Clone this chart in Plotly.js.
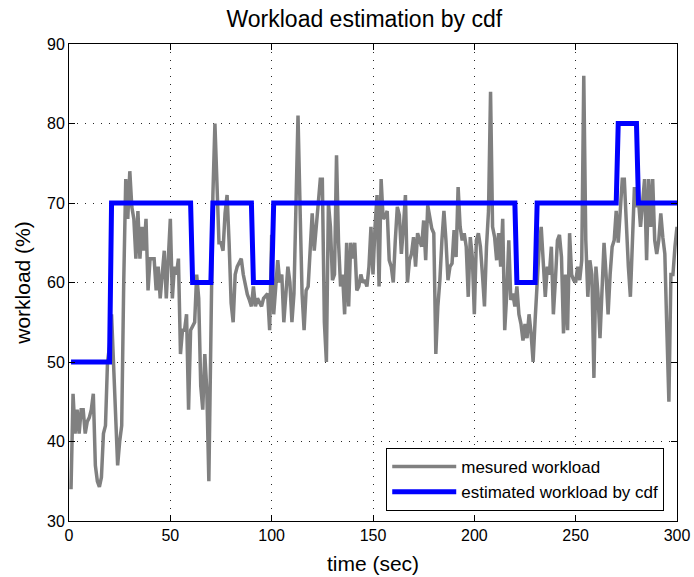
<!DOCTYPE html>
<html>
<head>
<meta charset="utf-8">
<script src="https://cdn.plot.ly/plotly-3.0.1.min.js"></script>
<style>
  html, body { margin: 0; padding: 0; background: #fff; }
  #chart { width: 694px; height: 577px; }
</style>
</head>
<body>
<div id="chart"></div>
<script>
// Measured workload, sampled once per second (t = 1 .. 300)
const measuredWorkload = [
  34, 46, 41, 44, 41, 44, 44, 41, 42.5, 43,
  44, 46, 37, 35, 34.3, 35.5, 41, 42, 50, 52,
  56, 49, 42, 37, 40, 42, 60, 73, 68, 74,
  69.5, 68, 63, 69, 63, 67, 64, 68, 59, 63,
  63, 63, 59, 62, 58, 61, 64, 58, 64, 68,
  58, 62, 61, 63, 51, 54, 54, 56, 44, 54,
  54.5, 55, 61, 58, 47, 44, 51, 46.5, 35, 57,
  71, 80, 71.6, 65, 65, 64, 68.7, 71, 65, 57.4,
  55, 61, 62, 62.5, 63, 61, 59.5, 58.5, 57.8, 57,
  59.5, 57, 58, 57.5, 57, 58, 58.3, 58.6, 54, 66,
  56, 59, 62.8, 60, 61, 55, 59, 62, 60, 55,
  58.6, 69.5, 81, 69.5, 58.6, 54, 59, 59.5, 65.3, 68.7,
  64, 67, 70.4, 73, 73, 55, 50, 70, 67, 60.3,
  61, 76, 65, 59.5, 61, 56, 65, 57, 65, 63,
  65, 59, 59.5, 61, 60, 60.3, 59.5, 62, 67, 61,
  67, 71, 59.5, 73, 68, 68.3, 69, 62.8, 62, 60,
  65.3, 69.5, 68.5, 63.6, 67, 71, 60, 62.8, 63.6, 65.7,
  62, 66.2, 65.3, 64.5, 67.8, 62.8, 69.7, 68.5, 66.8, 66.2,
  51, 57, 60.3, 65.3, 69, 65.3, 60.3, 62, 62.4, 66.6,
  63.2, 72, 67, 65.3, 66.2, 64.5, 58.2, 65.7, 63.2, 56,
  65.3, 66.2, 64.5, 61, 57, 64.5, 69, 84, 67, 65.7,
  62.8, 66.2, 62, 68, 54, 58.6, 65.3, 57.8, 58.6, 57,
  59.5, 56, 54.8, 52.7, 54.8, 53, 56, 53.6, 50, 55.3,
  61, 64.5, 67, 63.2, 58.2, 62, 61, 64.5, 56, 60.3,
  65.3, 66, 63.2, 53.6, 61, 54, 66.2, 61, 60.3, 60,
  62, 60.3, 62.8, 86, 65.3, 58.2, 62.8, 61, 48, 62,
  58.6, 53, 58.6, 65, 61, 56, 61, 64.5, 65.3, 69,
  65, 69.5, 73, 73, 67, 62, 58.2, 65.3, 72, 69.5,
  70.4, 67, 70.4, 73, 62.8, 73, 67, 73, 65.3, 63.6,
  65.3, 68.7, 65.7, 63.6, 54, 45, 61, 61, 64.5, 67
];
const measuredTime = measuredWorkload.map((_, i) => i + 1);

// Workload level estimated from the cdf (step changes between consecutive seconds)
const estimatedTime  = [1, 20, 21, 60, 61, 70, 71, 90, 91, 100, 101, 220, 221, 230, 231, 270, 271, 280, 281, 300];
const estimatedLevel = [50, 50, 70, 70, 60, 60, 70, 70, 60, 60, 70, 70, 60, 60, 70, 70, 80, 80, 70, 70];

const xTicks = [0, 50, 100, 150, 200, 250, 300];
const yTicks = [30, 40, 50, 60, 70, 80, 90];

const font = 'Liberation Sans, Arial, Helvetica, sans-serif';

const traces = [
  {
    x: measuredTime, y: measuredWorkload,
    type: 'scatter', mode: 'lines',
    name: 'mesured workload',
    line: { color: '#808080', width: 3.5, shape: 'linear' }
  },
  {
    x: estimatedTime, y: estimatedLevel,
    type: 'scatter', mode: 'lines',
    name: 'estimated workload by cdf',
    line: { color: '#0000ff', width: 5 }
  }
];

// MATLAB-like box axes: inward ticks on all sides, sparse dotted grid
const axisCommon = {
  showline: true, linecolor: '#000', linewidth: 1, mirror: 'ticks',
  ticks: 'inside', ticklen: 6, tickcolor: '#000', tickwidth: 1,
  showgrid: true, gridcolor: 'rgba(0,0,0,0.85)', griddash: '1px,7px', gridwidth: 1,
  zeroline: false,
  tickfont: { family: font, size: 16, color: '#000' }
};

const layout = {
  width: 694, height: 577,
  margin: { l: 69, r: 17, t: 44, b: 56 },
  paper_bgcolor: '#fff', plot_bgcolor: '#fff',
  font: { family: font, color: '#000' },
  title: {
    text: 'Workload estimation by cdf',
    font: { family: font, size: 23, color: '#000' },
    x: 0.525, xanchor: 'center', y: 0.968, yanchor: 'middle'
  },
  xaxis: Object.assign({}, axisCommon, {
    range: [0, 300], tickvals: xTicks, ticktext: xTicks.map(String),
    title: { text: 'time (sec)', font: { family: font, size: 21 }, standoff: 13 }
  }),
  yaxis: Object.assign({}, axisCommon, {
    range: [30, 90], tickvals: yTicks, ticktext: yTicks.map(String),
    title: { text: 'workload (%)', font: { family: font, size: 21 }, standoff: 10 }
  }),
  showlegend: true,
  legend: {
    x: 0.979, y: 0.021, xanchor: 'right', yanchor: 'bottom',
    bgcolor: '#fff', bordercolor: '#000', borderwidth: 1,
    font: { family: font, size: 17, color: '#000' },
    tracegroupgap: 0, itemwidth: 64
  }
};

Plotly.newPlot('chart', traces, layout, { displayModeBar: false, staticPlot: true });
</script>
</body>
</html>
